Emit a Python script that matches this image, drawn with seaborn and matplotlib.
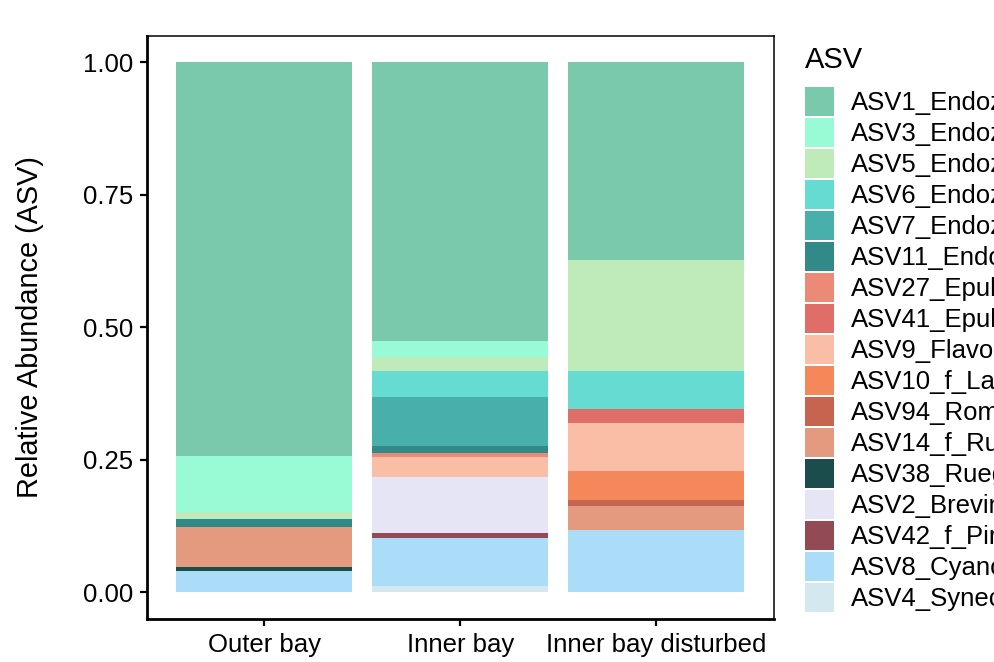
import matplotlib
matplotlib.use("Agg")
import matplotlib.pyplot as plt
import seaborn as sns
import pandas as pd
import numpy as np
from matplotlib.patches import Patch
from matplotlib.ticker import FixedLocator, FormatStrFormatter

sites = ["Outer bay", "Inner bay", "Inner bay disturbed"]

asvs = ["ASV1_Endozoicomonas", "ASV3_Endozoicomonas", "ASV5_Endozoicomonas",
        "ASV6_Endozoicomonas", "ASV7_Endozoicomonas", "ASV11_Endozoicomonas",
        "ASV27_Epulopiscium", "ASV41_Epulopiscium", "ASV9_Flavonifractor",
        "ASV10_f_Lachnospiraceae", "ASV94_Romboutsia", "ASV14_f_Ruminococcaceae",
        "ASV38_Ruegeria", "ASV2_Brevinema", "ASV42_f_Pirellulaceae",
        "ASV8_Cyanobacteria", "ASV4_Synechococcus"]

colors = ["#7AC9AC", "#98FBD6", "#BEEBB9", "#66DBD1", "#48AFAA", "#328A88",
          "#EC8A78", "#E06E68", "#F9BEA5", "#F5885A", "#C5644F", "#E49A7E",
          "#1A4D4C", "#E6E5F5", "#924A55", "#ABDCF8", "#D4E9EF"]

# relative abundances, in legend order (top of stack first)
outer_bay = [0.7425, 0.105, 0.014, 0.0, 0.0, 0.015, 0.0, 0.0, 0.0, 0.0, 0.0,
             0.075, 0.0075, 0.0, 0.0, 0.041, 0.0]
inner_bay = [0.5265, 0.030, 0.025, 0.049, 0.094, 0.0125, 0.008, 0.0, 0.038,
             0.0, 0.0, 0.0, 0.0, 0.104, 0.011, 0.090, 0.012]
inner_bay_disturbed = [0.3735, 0.0, 0.209, 0.0715, 0.0, 0.0, 0.0, 0.0265,
                       0.0905, 0.055, 0.011, 0.045, 0.0, 0.0, 0.0, 0.118, 0.0]

values = {"Outer bay": outer_bay, "Inner bay": inner_bay,
          "Inner bay disturbed": inner_bay_disturbed}

rows = []
for s in sites:
    v = np.array(values[s], dtype=float)
    cum = v[::-1].cumsum()[::-1]  # stack from bottom (last ASV) upward
    for a, c in zip(asvs, cum):
        rows.append({"site": s, "ASV": a, "cum": c})
df = pd.DataFrame(rows)

sns.set_style("white")
plt.rcParams["font.family"] = ["Liberation Sans", "DejaVu Sans"]

W, H = 995, 662
fig = plt.figure(figsize=(W / 100, H / 100), dpi=100)
ax = fig.add_axes([0.1474, 0.065, 0.6302, 0.881])

for a, col in zip(asvs, colors):
    sub = df[df["ASV"] == a]
    sns.barplot(data=sub, x="site", y="cum", order=sites, color=col,
                saturation=1, width=0.9, errorbar=None, linewidth=0,
                edgecolor="none", ax=ax)

ax.set_xlim(-0.6, 2.6)
ax.set_ylim(-0.05, 1.05)
ax.yaxis.set_major_locator(FixedLocator([0, 0.25, 0.5, 0.75, 1.0]))
ax.yaxis.set_major_formatter(FormatStrFormatter("%.2f"))
ax.set_xlabel("")
ax.set_ylabel("Relative Abundance (ASV)", fontsize=20.8, color="black")
ax.yaxis.set_label_coords(-0.164, 0.5)

for side in ["left", "bottom"]:
    ax.spines[side].set_linewidth(2.0)
    ax.spines[side].set_color("black")
for side in ["top", "right"]:
    ax.spines[side].set_linewidth(1.1)
    ax.spines[side].set_color("black")

ax.tick_params(axis="both", direction="out", length=5, width=1.6,
               labelsize=18.5, pad=5.0, colors="black", labelcolor="black",
               left=True, bottom=True)

# legend title
fig.text(805 / W, 1 - 68.5 / H, "ASV", fontsize=21, color="black",
         ha="left", va="baseline")

fs = 18.5
fpx = fs * 100 / 72
key = 29.0
hh = (key / fpx - 0.245) / 0.65
handles = [Patch(facecolor=c, edgecolor="none") for c in colors]
leg = fig.legend(handles, asvs, loc="upper left",
                 bbox_to_anchor=(805 / W, 1 - 86.7 / H),
                 frameon=False, fontsize=fs,
                 handlelength=key / fpx, handleheight=hh,
                 handletextpad=17 / fpx, labelspacing=2.0 / fpx,
                 borderpad=0, borderaxespad=0, alignment="left")
for t in leg.get_texts():
    t.set_color("black")

fig.savefig("out.png", dpi=100)
